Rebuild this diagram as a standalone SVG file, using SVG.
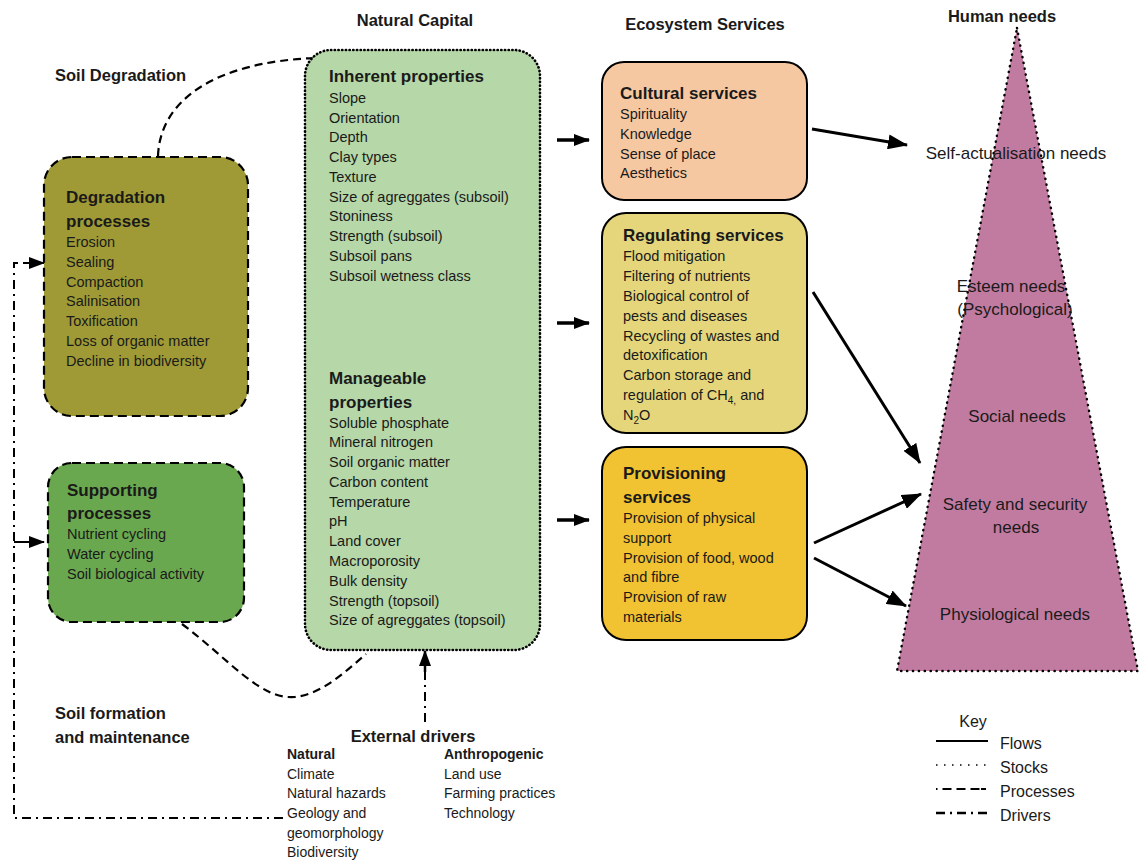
<svg xmlns="http://www.w3.org/2000/svg" width="1141" height="861" viewBox="0 0 1141 861">
  <style>
    text { font-family: "Liberation Sans", Arial, sans-serif; fill: #1a1a1a; }
    .title { font-size: 16.5px; font-weight: bold; }
    .head { font-size: 17px; font-weight: bold; }
    .item { font-size: 14.5px; }
    .small { font-size: 14px; }
    .smallb { font-size: 14px; font-weight: bold; }
    .need { font-size: 17px; text-anchor: middle; }
    .key { font-size: 16px; }
    .process { fill: none; stroke: #000; stroke-width: 2.2; stroke-dasharray: 8 5; }
    .processbox { stroke: #000; stroke-width: 2.2; stroke-dasharray: 9 5; }
    .stock { stroke: #000; stroke-width: 2.6; stroke-dasharray: 0.3 3.4; stroke-linecap: round; }
    .flowbox { stroke: #000; stroke-width: 2; }
    .flow { fill: none; stroke: #000; stroke-width: 3; }
    .driver { fill: none; stroke: #000; stroke-width: 2; stroke-dasharray: 9 5 2 5; }
  </style>
  <defs>
    <marker id="head" markerUnits="userSpaceOnUse" markerWidth="20" markerHeight="15" refX="19" refY="7.5" orient="auto">
      <path d="M0,0 L20,7.5 L0,15 Z" fill="#000"/>
    </marker>
    <marker id="headS" markerUnits="userSpaceOnUse" markerWidth="16" markerHeight="12" refX="15" refY="6" orient="auto">
      <path d="M0,0 L16,6 L0,12 Z" fill="#000"/>
    </marker>
  </defs>

  <!-- section titles -->
  <text class="title" x="55" y="81">Soil Degradation</text>
  <text class="title" x="415" y="26" text-anchor="middle">Natural Capital</text>
  <text class="title" x="705" y="30" text-anchor="middle">Ecosystem Services</text>
  <text class="title" x="1002" y="22" text-anchor="middle">Human needs</text>
  <text class="title" x="55" y="719">Soil formation</text>
  <text class="title" x="55" y="743">and maintenance</text>

  <!-- connectors -->
  <g id="connectors">
    <!-- process loops -->
    <path class="process" d="M158,156 C160,100 215,62 315,58"/>
    <path class="process" d="M182,624 C230,660 260,700 295,697 C322,694 345,672 366,654"/>
    <!-- external driver lines -->
    <path class="driver" d="M283,818 L14,818 L14,263 L28,263"/>
    <path d="M24,263 L44,263" stroke="#000" stroke-width="2" marker-end="url(#headS)"/>
    <path d="M14,542 L44,542" stroke="#000" stroke-width="2" marker-end="url(#headS)"/>
    <path class="driver" d="M425,722 L425,668"/>
    <path d="M425,672 L425,651" stroke="#000" stroke-width="2.5" marker-end="url(#headS)"/>
    <!-- inherent to manageable -->
    <path d="M394,292 L394,355" stroke="#000" stroke-width="3" marker-end="url(#headS)"/>
    <!-- natural capital to services -->
    <path d="M557,140 L589,140" stroke="#000" stroke-width="3.5" marker-end="url(#headS)"/>
    <path d="M557,323 L589,323" stroke="#000" stroke-width="3.5" marker-end="url(#headS)"/>
    <path d="M557,520 L589,520" stroke="#000" stroke-width="3.5" marker-end="url(#headS)"/>
    <!-- services to needs -->
    <path class="flow" d="M812,129 L907,145" marker-end="url(#head)"/>
    <path class="flow" d="M813,292 L920,463" marker-end="url(#head)"/>
    <path class="flow" d="M814,543 L921,494" marker-end="url(#head)"/>
    <path class="flow" d="M814,558 L906,606" marker-end="url(#head)"/>
  </g>

  <!-- degradation processes -->
  <g id="degradation">
    <rect x="44" y="157" width="204" height="259" rx="28" fill="#9f9a35" class="processbox"/>
    <text class="head" x="66" y="203">Degradation</text>
    <text class="head" x="66" y="227">processes</text>
    <text class="item" x="66" y="247">Erosion</text>
    <text class="item" x="66" y="267">Sealing</text>
    <text class="item" x="66" y="287">Compaction</text>
    <text class="item" x="66" y="306">Salinisation</text>
    <text class="item" x="66" y="326">Toxification</text>
    <text class="item" x="66" y="346">Loss of organic matter</text>
    <text class="item" x="66" y="366">Decline in biodiversity</text>
  </g>

  <!-- supporting processes -->
  <g id="supporting">
    <rect x="48" y="463" width="196" height="159" rx="24" fill="#6aa84f" class="processbox"/>
    <text class="head" x="67" y="496">Supporting</text>
    <text class="head" x="67" y="519">processes</text>
    <text class="item" x="67" y="539">Nutrient cycling</text>
    <text class="item" x="67" y="559">Water cycling</text>
    <text class="item" x="67" y="579">Soil biological activity</text>
  </g>

  <!-- natural capital -->
  <g id="natural-capital">
    <rect x="305" y="50" width="235" height="600" rx="26" fill="#b6d7a8" class="stock"/>
    <text class="head" x="329" y="82">Inherent properties</text>
    <text class="item" x="329" y="103">Slope</text>
    <text class="item" x="329" y="123">Orientation</text>
    <text class="item" x="329" y="142">Depth</text>
    <text class="item" x="329" y="162">Clay types</text>
    <text class="item" x="329" y="182">Texture</text>
    <text class="item" x="329" y="202">Size of agreggates (subsoil)</text>
    <text class="item" x="329" y="221">Stoniness</text>
    <text class="item" x="329" y="241">Strength (subsoil)</text>
    <text class="item" x="329" y="261">Subsoil pans</text>
    <text class="item" x="329" y="281">Subsoil wetness class</text>
    <text class="head" x="329" y="384">Manageable</text>
    <text class="head" x="329" y="408">properties</text>
    <text class="item" x="329" y="428">Soluble phosphate</text>
    <text class="item" x="329" y="447">Mineral nitrogen</text>
    <text class="item" x="329" y="467">Soil organic matter</text>
    <text class="item" x="329" y="487">Carbon content</text>
    <text class="item" x="329" y="507">Temperature</text>
    <text class="item" x="329" y="526">pH</text>
    <text class="item" x="329" y="546">Land cover</text>
    <text class="item" x="329" y="566">Macroporosity</text>
    <text class="item" x="329" y="586">Bulk density</text>
    <text class="item" x="329" y="606">Strength (topsoil)</text>
    <text class="item" x="329" y="625">Size of agreggates (topsoil)</text>
  </g>

  <!-- cultural services -->
  <g id="cultural">
    <rect x="602" y="62" width="205" height="138" rx="22" fill="#f6c8a2" class="flowbox"/>
    <text class="head" x="620" y="99">Cultural services</text>
    <text class="item" x="620" y="119">Spirituality</text>
    <text class="item" x="620" y="139">Knowledge</text>
    <text class="item" x="620" y="159">Sense of place</text>
    <text class="item" x="620" y="178">Aesthetics</text>
  </g>

  <!-- regulating services -->
  <g id="regulating">
    <rect x="602" y="213" width="205" height="220" rx="24" fill="#e5d67c" class="flowbox"/>
    <text class="head" x="623" y="241">Regulating services</text>
    <text class="item" x="623" y="261">Flood mitigation</text>
    <text class="item" x="623" y="281">Filtering of nutrients</text>
    <text class="item" x="623" y="301">Biological control of</text>
    <text class="item" x="623" y="321">pests and diseases</text>
    <text class="item" x="623" y="341">Recycling of wastes and</text>
    <text class="item" x="623" y="360">detoxification</text>
    <text class="item" x="623" y="380">Carbon storage and</text>
    <text class="item" x="623" y="400">regulation of CH<tspan font-size="10" dy="4">4,</tspan><tspan dy="-4"> and</tspan></text>
    <text class="item" x="623" y="420">N<tspan font-size="10" dy="4">2</tspan><tspan dy="-4">O</tspan></text>
  </g>

  <!-- provisioning services -->
  <g id="provisioning">
    <rect x="602" y="447" width="205" height="193" rx="24" fill="#f1c232" class="flowbox"/>
    <text class="head" x="623" y="479">Provisioning</text>
    <text class="head" x="623" y="503">services</text>
    <text class="item" x="623" y="523">Provision of physical</text>
    <text class="item" x="623" y="543">support</text>
    <text class="item" x="623" y="563">Provision of food, wood</text>
    <text class="item" x="623" y="582">and fibre</text>
    <text class="item" x="623" y="602">Provision of raw</text>
    <text class="item" x="623" y="622">materials</text>
  </g>

  <!-- human needs pyramid -->
  <g id="needs">
    <polygon points="1017,28 1138,671 897,671" fill="#c27ba0" stroke="#000" stroke-width="2.4" stroke-linecap="round" stroke-dasharray="0.3 5.6"/>
    <text class="need" x="1016" y="159">Self-actualisation needs</text>
    <text class="need" x="1011" y="292">Esteem needs</text>
    <text class="need" x="1015" y="315">(Psychological)</text>
    <text class="need" x="1017" y="422">Social needs</text>
    <text class="need" x="1015" y="510">Safety and security</text>
    <text class="need" x="1016" y="533">needs</text>
    <text class="need" x="1015" y="620">Physiological needs</text>
  </g>

  <!-- external drivers -->
  <g id="external-drivers">
    <text class="title" x="413" y="742" text-anchor="middle">External drivers</text>
    <text class="smallb" x="287" y="759">Natural</text>
    <text class="small" x="287" y="779">Climate</text>
    <text class="small" x="287" y="798">Natural hazards</text>
    <text class="small" x="287" y="818">Geology and</text>
    <text class="small" x="287" y="838">geomorphology</text>
    <text class="small" x="287" y="857">Biodiversity</text>
    <text class="smallb" x="444" y="759">Anthropogenic</text>
    <text class="small" x="444" y="779">Land use</text>
    <text class="small" x="444" y="798">Farming practices</text>
    <text class="small" x="444" y="818">Technology</text>
  </g>

  <!-- key -->
  <g id="key">
    <text class="key" x="973" y="727" text-anchor="middle">Key</text>
    <line x1="936" y1="741" x2="988" y2="741" stroke="#000" stroke-width="2"/>
    <line x1="936" y1="765" x2="988" y2="765" stroke="#000" stroke-width="1.5" stroke-dasharray="1.5 6.5"/>
    <line x1="936" y1="789" x2="988" y2="789" stroke="#000" stroke-width="2" stroke-dasharray="1.5 5 9 5 9 5 9"/>
    <line x1="936" y1="813" x2="988" y2="813" stroke="#000" stroke-width="2.5" stroke-dasharray="9 5 2 5 9 5 2 5"/>
    <text class="key" x="1000" y="749">Flows</text>
    <text class="key" x="1000" y="773">Stocks</text>
    <text class="key" x="1000" y="797">Processes</text>
    <text class="key" x="1000" y="821">Drivers</text>
  </g>
</svg>
